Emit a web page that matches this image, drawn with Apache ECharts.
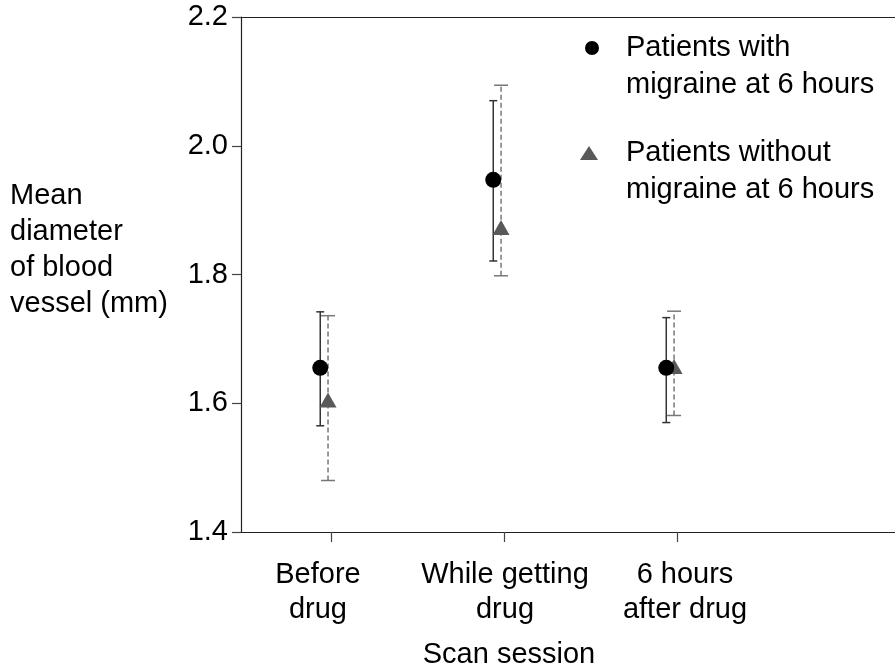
<!DOCTYPE html>
<html>
<head>
<meta charset="utf-8">
<script src="https://cdn.jsdelivr.net/npm/echarts@6/dist/echarts.min.js"></script>
<style>
html,body{margin:0;padding:0;background:#fff;}
#chart{width:895px;height:663px;}
</style>
</head>
<body>
<div id="chart"></div>
<script>
// ---- data ----
const categories = ['Before\ndrug', 'While getting\ndrug', '6 hours\nafter drug'];
const categoryPos = [1, 2, 3];
const yTicks = [1.4, 1.6, 1.8, 2.0, 2.2];
const migraineMean = [1.655, 1.947, 1.655];
const migraineLow  = [1.565, 1.821, 1.570];
const migraineHigh = [1.742, 2.070, 1.733];
const noMigraineMean = [1.605, 1.873, 1.657];
const noMigraineLow  = [1.480, 1.798, 1.581];
const noMigraineHigh = [1.736, 2.094, 1.743];
const seriesNames = ['Patients with\nmigraine at 6 hours', 'Patients without\nmigraine at 6 hours'];
const yTitle = 'Mean\ndiameter\nof blood\nvessel (mm)';
const xTitle = 'Scan session';

// ---- style constants ----
const FONT = 'Liberation Sans, Arial, Helvetica, sans-serif';
const FS = 29;
const offA = -0.062, offB = -0.017;
const labelStyles = ['l', 'm', 'r'];

const chart = echarts.init(document.getElementById('chart'), null, {renderer: 'canvas'});

function errData(pos, low, high, off) {
  return pos.map((p, i) => [p + off, low[i], high[i]]);
}
function scatterData(pos, mean, off) {
  return pos.map((p, i) => [p + off, mean[i]]);
}
function errRender(color, dash, capHalf) {
  return function (params, api) {
    const x = api.value(0);
    const lo = api.coord([x, api.value(1)]);
    const hi = api.coord([x, api.value(2)]);
    const st = {stroke: color, lineWidth: 1.5};
    return {
      type: 'group',
      children: [
        {type: 'line', shape: {x1: lo[0], y1: lo[1], x2: hi[0], y2: hi[1]}, style: Object.assign({lineDash: dash}, st)},
        {type: 'line', shape: {x1: hi[0] - capHalf, y1: hi[1], x2: hi[0] + capHalf, y2: hi[1]}, style: st},
        {type: 'line', shape: {x1: lo[0] - capHalf, y1: lo[1], x2: lo[0] + capHalf, y2: lo[1]}, style: st}
      ]
    };
  };
}

const option = {
  backgroundColor: '#fff',
  animation: false,
  textStyle: {fontFamily: FONT},
  title: {
    text: yTitle, left: 5, top: 173,
    textStyle: {fontFamily: FONT, fontSize: FS, fontWeight: 'normal', color: '#000', lineHeight: 36}
  },
  grid: {left: 241, right: 0, top: 17, bottom: 131, containLabel: false, outerBoundsMode: 'none'},
  xAxis: [{
    type: 'value', min: 0.48, max: 4.26,
    position: 'bottom',
    splitLine: {show: false},
    axisLine: {show: true, lineStyle: {color: '#222', width: 1.2}},
    axisTick: {show: true, customValues: categoryPos, length: 10, lineStyle: {color: '#444', width: 1.2}},
    axisLabel: {
      show: true, customValues: categoryPos, margin: 25,
      formatter: function (v) {
        const i = Math.round(v) - 1;
        const s = labelStyles[i];
        return categories[i].split('\n').map(t => '{' + s + '|' + t + '}').join('\n');
      },
      rich: {
        l: {fontSize: FS, fontFamily: FONT, color: '#000', lineHeight: 35, padding: [0, 26, 0, 0]},
        m: {fontSize: FS, fontFamily: FONT, color: '#000', lineHeight: 35, padding: [0, 0, 0, 2]},
        r: {fontSize: FS, fontFamily: FONT, color: '#000', lineHeight: 35, padding: [0, 0, 0, 16]}
      }
    },
    name: xTitle, nameLocation: 'middle', nameGap: 108,
    nameTextStyle: {fontSize: FS, fontFamily: FONT, color: '#000', padding: [0, 118, 0, 0]}
  }, {
    type: 'value', min: 0.48, max: 4.26, position: 'top',
    splitLine: {show: false}, axisTick: {show: false}, axisLabel: {show: false},
    axisLine: {show: true, lineStyle: {color: '#222', width: 1.2}}
  }],
  yAxis: {
    type: 'value', min: 1.4, max: 2.2, interval: 0.2,
    splitLine: {show: false},
    axisLine: {show: true, lineStyle: {color: '#222', width: 1.2}},
    axisTick: {show: true, inside: false, length: 9, lineStyle: {color: '#444', width: 1.2}},
    axisLabel: {
      margin: 13, fontSize: FS, fontFamily: FONT, color: '#000',
      formatter: v => yTicks.find(t => Math.abs(t - v) < 1e-6).toFixed(1)
    }
  },
  graphic: [
    {type: 'circle', left: 585, top: 41, shape: {r: 7}, style: {fill: '#000'}},
    {type: 'text', left: 626, top: 29, style: {text: seriesNames[0], font: FS + 'px ' + FONT, fill: '#000', lineHeight: 37}},
    {type: 'polygon', shape: {points: [[580, 160], [589, 146], [598, 160]]}, style: {fill: '#595959'}},
    {type: 'text', left: 626, top: 134, style: {text: seriesNames[1], font: FS + 'px ' + FONT, fill: '#000', lineHeight: 37}}
  ],
  series: [
    {
      type: 'custom', name: 'errB', renderItem: errRender('#777', [5, 3], 7),
      data: errData(categoryPos, noMigraineLow, noMigraineHigh, offB), z: 1, silent: true
    },
    {
      type: 'custom', name: 'errA', renderItem: errRender('#333', null, 4),
      data: errData(categoryPos, migraineLow, migraineHigh, offA), z: 1, silent: true
    },
    {
      type: 'scatter', name: seriesNames[1], symbol: 'triangle', symbolSize: [17, 15],
      itemStyle: {color: '#595959', opacity: 1}, data: scatterData(categoryPos, noMigraineMean, offB), z: 2
    },
    {
      type: 'scatter', name: seriesNames[0], symbol: 'circle', symbolSize: 16,
      itemStyle: {color: '#000', opacity: 1}, data: scatterData(categoryPos, migraineMean, offA), z: 3
    }
  ]
};
chart.setOption(option);
</script>
</body>
</html>
